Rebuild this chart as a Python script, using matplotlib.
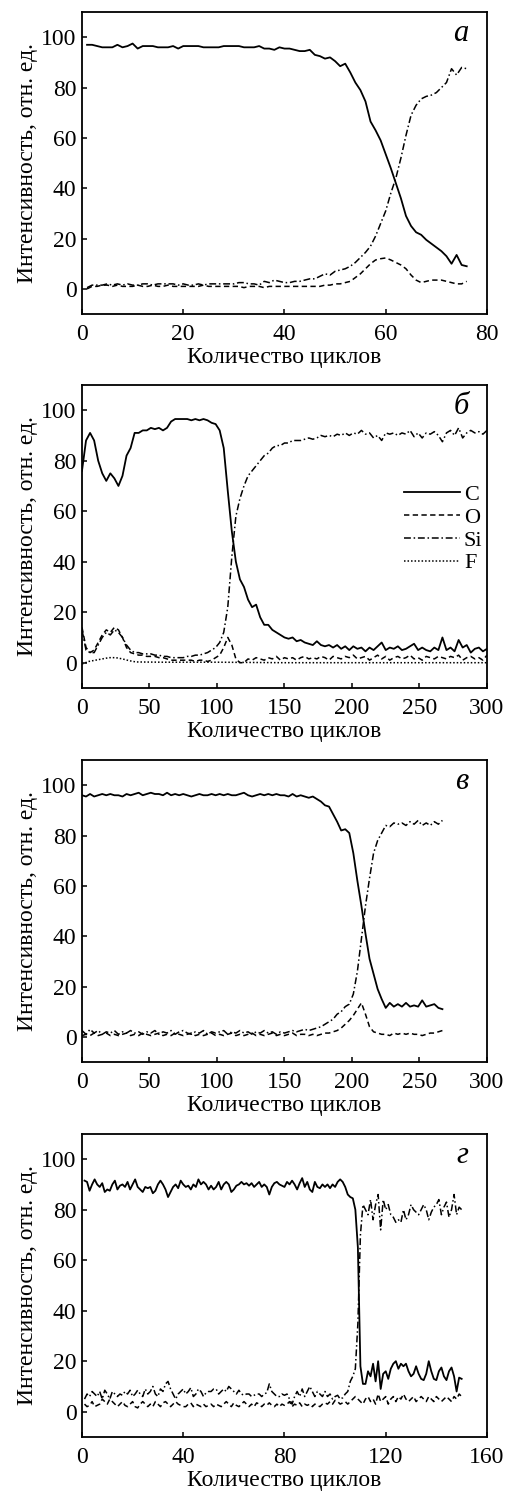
import numpy as np
import matplotlib
matplotlib.use('Agg')
import matplotlib.pyplot as plt

plt.rcParams['font.family'] = ['Liberation Serif', 'DejaVu Serif']

# ---- panel a : x = 1..76
a_x = np.arange(1, 77)
a_C = [97.0, 97.0, 96.5, 96.0, 96.0, 96.0, 97.0, 96.0, 96.5, 97.5,
       95.5, 96.5, 96.5, 96.5, 96.0, 96.0, 96.0, 96.5, 95.5, 96.5,
       96.5, 96.5, 96.5, 96.0, 96.0, 96.0, 96.0, 96.5, 96.5, 96.5,
       96.5, 96.0, 96.0, 96.0, 96.5, 95.5, 95.5, 95.0, 96.0, 95.5,
       95.5, 95.0, 94.5, 94.5, 95.0, 93.0, 92.5, 91.5, 92.0, 90.5,
       88.5, 89.5, 86.0, 82.0, 79.0, 74.5, 66.5, 63.0, 59.0, 53.5,
       48.0, 42.0, 36.0, 29.0, 25.0, 22.5, 21.5, 19.5, 18.0, 16.5,
       15.0, 13.0, 10.0, 13.5, 9.5, 9.0]
a_O = [0.0, 1.0, 1.0, 1.5, 1.5, 1.0, 1.5, 1.0, 1.0, 1.0,
       1.5, 1.0, 1.0, 1.5, 1.0, 1.0, 1.5, 1.0, 1.0, 1.0,
       1.0, 1.0, 1.0, 1.5, 1.0, 1.0, 1.0, 1.0, 1.0, 1.0,
       1.0, 0.5, 1.0, 1.0, 1.0, 0.5, 1.0, 1.0, 1.0, 1.0,
       1.0, 1.0, 1.0, 1.0, 1.0, 1.0, 1.0, 1.5, 1.5, 2.0,
       2.0, 2.5, 3.0, 4.5, 6.0, 8.0, 10.0, 11.5, 12.0, 12.3,
       11.5, 10.5, 9.5, 8.0, 5.5, 3.5, 2.5, 3.0, 3.5, 3.5,
       3.5, 3.0, 2.5, 2.0, 2.0, 3.0]
a_Si = [0.5, 1.5, 1.5, 1.5, 2.0, 1.5, 2.0, 1.5, 2.0, 1.5,
        1.5, 2.0, 2.0, 1.5, 2.0, 2.0, 2.0, 2.0, 1.5, 2.0,
        1.5, 1.5, 2.0, 1.5, 2.0, 2.0, 2.0, 2.0, 2.0, 2.0,
        2.5, 2.5, 2.0, 2.0, 1.5, 3.0, 2.5, 3.5, 3.0, 2.5,
        2.5, 3.0, 3.0, 3.5, 4.0, 4.0, 5.0, 6.0, 5.5, 7.0,
        7.5, 8.0, 9.0, 10.5, 12.5, 14.5, 17.0, 21.0, 26.0, 31.0,
        38.0, 44.0, 52.0, 61.0, 69.0, 73.0, 75.5, 76.5, 77.0, 78.0,
        80.0, 82.0, 87.5, 85.0, 88.0, 87.5]

# ---- panel b : x = 0..300, every 3 cycles
b_x = np.arange(0, 301, 3)
b_C = [76, 88, 91, 88, 80, 75, 72, 75, 73, 70,
       74, 82, 85, 91, 91, 92, 92, 93, 92.5, 93,
       92, 93, 95.5, 96.5, 96.5, 96.5, 96.5, 96, 96.5, 96,
       96.5, 96, 95, 94.5, 92, 85, 68, 52, 40, 33,
       30, 25, 22, 23, 18, 15, 15, 13, 12, 11,
       10, 9.5, 10, 8.5, 9, 8, 7.5, 7, 8.5, 7,
       6.5, 7, 6, 7, 5.5, 6.5, 5, 6.5, 5.5, 6,
       4.5, 6, 5, 6.5, 8, 5, 6, 5.5, 6.5, 5,
       5.5, 6.5, 7.5, 5, 6, 5, 4.5, 6, 5, 10,
       5, 6, 4.5, 9, 6, 7, 4, 5.5, 6, 4.5,
       5.5]
b_O = [14, 6, 4, 5, 8, 11, 13, 12, 14, 13,
       10, 6, 4, 3.5, 3, 3, 2.5, 2.5, 2.5, 2,
       2, 1.5, 1, 1, 1, 1, 1, 1, 0.5, 1,
       1, 0.5, 1, 2, 3, 6, 10, 7, 1.5, 0,
       0, 1.5, 1, 2, 1.5, 1, 2, 1.5, 2.5, 1,
       2, 1.5, 2, 1, 2, 2.5, 1.5, 2, 1.5, 2.5,
       2, 1, 2.5, 2, 1.5, 2.5, 2, 3, 1.5, 2,
       2.5, 1, 2, 3, 1.5, 2.5, 1, 2, 2.5, 1.5,
       2, 3, 1.5, 2, 1, 2.5, 2, 1.5, 2.5, 2,
       1.5, 2.5, 2, 3, 1, 2, 2.5, 1.5, 2, 1,
       3]
b_Si = [13, 5, 4, 4, 7, 10, 12, 11, 13, 12,
        10, 7, 5, 4, 4, 3.5, 3.5, 3.5, 3, 3,
        2.5, 2.5, 2, 2, 2, 2, 2.5, 2.5, 3, 3,
        3.5, 4, 5, 6, 8, 12, 22, 42, 58, 65,
        70, 74, 76, 78, 80, 82, 83, 85, 86, 86,
        87, 87, 88, 88, 88, 88.5, 89, 88.5, 89, 90,
        89.5, 90, 89.5, 90.5, 90, 91, 90, 91, 90.5, 92,
        90.5, 91, 89, 90, 88, 91, 90.5, 91, 90, 91,
        90.5, 92, 89.5, 91, 89, 91, 90.5, 91.5, 90, 87.5,
        91, 92, 90, 93, 89, 91, 92, 91, 91.5, 90.5,
        92]
b_F_x = [0, 5, 10, 15, 20, 25, 30, 35, 40, 60, 100, 150, 200, 250, 300]
b_F = [-0.5, 0.5, 1.0, 1.5, 2.0, 2.0, 1.5, 0.8, 0.3, 0.2, 0.2, 0.0, 0.0, 0.0, 0.0]

# ---- panel c : x = 0..267, every 3 cycles
c_x = np.arange(0, 268, 3)
c_C = [96, 95.5, 96.5, 95.5, 96, 96.5, 96, 96.5, 96, 96,
       95.5, 96.5, 96, 96.5, 97, 96, 96.5, 97, 96.5, 96.5,
       96, 97, 96, 96.5, 96, 96.5, 96, 95.5, 96, 96.5,
       96, 96, 96.5, 96, 96.5, 96, 96.5, 96, 96, 96.5,
       97, 96, 95.5, 96, 96.5, 96, 96.5, 96, 96.5, 96,
       96, 95.5, 96.5, 95.5, 96, 95.5, 95, 95.5, 94.5, 93.5,
       92, 91.5, 88.5, 85.5, 82, 82.5, 81, 73, 62, 52,
       41, 31, 25, 19, 15, 11.5, 13.5, 12, 13, 12,
       13.5, 12, 12.5, 12, 14.5, 12, 12.5, 13, 11.5, 11]
c_O = [0.5, 1, 0.5, 1.5, 0.5, 1, 1.5, 0.5, 1, 0.5,
       1, 1.5, 0.5, 1, 0.5, 1.5, 1, 0.5, 1, 1.5,
       0.5, 1, 0.5, 1.5, 1, 0.5, 1, 1.5, 0.5, 1,
       0.5, 1, 1.5, 0.5, 1, 0.5, 1, 1.5, 0.5, 1,
       0.5, 1, 1.5, 0.5, 1, 0.5, 1, 1.5, 0.5, 1,
       0.5, 1, 1.5, 0.5, 1, 1, 0.5, 1, 0.5, 1,
       1.5, 1.5, 2, 2.5, 3.5, 5, 6.5, 8.5, 11, 13.5,
       9, 4, 2, 1.5, 1, 1, 0.5, 1.5, 1, 1.5,
       1, 1.5, 1, 1, 0.5, 1, 1.5, 1.5, 2, 2.5]
c_Si = [2.5, 1, 3, 1.5, 2.5, 1, 2, 1.5, 2.5, 1,
        2, 1.5, 2.5, 1.5, 2, 1, 2, 1.5, 2.5, 1,
        2, 1.5, 2.5, 1, 2, 2.5, 1.5, 1, 2, 1.5,
        2.5, 1, 2, 1.5, 2, 2.5, 1, 2, 1.5, 2.5,
        1.5, 2, 1, 2, 1.5, 2.5, 1.5, 2, 1, 2,
        1.5, 2, 2.5, 2, 2.5, 3, 2.5, 3, 3.5, 4,
        5, 6, 7, 9, 10, 12, 13, 17, 26, 39,
        52, 63, 73, 78, 81, 84, 83.5, 85, 84.5, 85,
        84, 85.5, 84.5, 86, 84, 85, 84, 85.5, 84.5, 86]

# ---- panel d : x = 1..150
d_x = np.arange(1, 151)
d_C = [91.5, 91, 87.5, 90, 92, 90, 89, 90.5, 87, 88,
       87.5, 90, 91.5, 88, 89.5, 90, 89, 91, 88, 90,
       92, 89, 88, 87, 89, 88.5, 89, 86.5, 87.5, 90,
       91.5, 90, 88, 85, 87, 89, 90, 88.5, 91.5, 90,
       89, 89.5, 88, 90, 89, 92, 90, 91, 90, 88,
       89.5, 88, 89, 91, 88, 90, 91, 90, 87, 88,
       89.5, 90, 91, 90, 90.5, 89.5, 90.5, 89, 90, 91,
       89, 90, 89, 86, 89, 90.5, 91, 90, 89.5, 89,
       91, 90, 91.5, 90, 88, 90.5, 92.5, 89, 91, 88,
       87, 91, 89, 88.5, 90, 89, 90, 88.5, 90, 89,
       91, 92, 91, 89, 86, 85, 84.5, 80, 65, 18,
       11, 11, 16, 14, 19, 12, 20, 9, 15, 16,
       13, 17, 19, 20, 17, 19, 18, 19, 16, 14,
       15, 18, 15, 13, 12.5, 15, 20, 16, 13, 12.5,
       16, 17.5, 14, 12.5, 16, 17.5, 14, 8, 13.5, 13]
d_O = [3, 2, 2.5, 4, 2, 2.5, 3, 5, 4, 3,
       5, 4, 3, 2, 3, 4, 2.5, 2, 3, 4,
       2, 1.5, 3, 4, 3, 2, 3, 2, 4, 3,
       2, 3.5, 4, 3, 2, 3, 4, 3, 2.5, 2,
       2, 3, 3.5, 2, 3, 2.5, 2, 3, 2, 2.5,
       3, 2, 3, 2.5, 2, 3, 4, 3, 2, 3.5,
       2.5, 2, 3, 4, 3, 2, 3, 2, 3.5, 3,
       2, 3, 2.5, 3.5, 2.5, 2, 3, 2, 3, 2.5,
       3, 4, 2, 3, 2.5, 3.5, 2, 3, 2.5, 3,
       2, 3, 2.5, 2, 3, 3.5, 3, 4, 3, 4.5,
       4, 3, 3.5, 4, 3, 4, 5, 6, 5, 4,
       3, 5, 6, 4, 5, 3, 7, 4, 5, 6,
       3, 5, 6, 4, 6, 5, 7, 5, 4, 5,
       6, 4, 5, 6, 5, 4, 6, 5, 4, 6,
       5, 4, 5, 6, 5, 4, 6, 5, 7, 6]
d_Si = [5, 7, 6, 8, 7, 6, 8, 5, 8.5, 7,
        5, 8, 7, 6, 7, 6.5, 8, 7, 8.5, 6,
        7, 8.5, 7, 6, 9, 7, 8, 10, 7, 6,
        9, 8, 11, 12, 9, 7, 5, 7, 8, 9,
        7, 8, 9.5, 6, 7, 9, 8, 6, 7.5, 8,
        8, 9, 9, 7, 8, 9, 8, 10, 9, 8,
        7, 8.5, 7, 6.5, 7, 7, 6, 6.5, 7, 7,
        6, 7, 7.5, 11, 8, 7, 6, 6, 7, 6.5,
        7, 5, 3, 6, 8, 6, 9, 6, 8, 10,
        8, 6, 8, 7, 6, 8, 6, 7, 5, 6,
        6.5, 5, 5.5, 7, 8, 12, 14, 17, 35, 70,
        82, 80, 78, 84, 76, 82, 86, 72, 84, 80,
        82, 78, 77, 75, 76, 75, 80, 76, 78, 82,
        80, 79, 78, 80, 82, 80, 76, 79, 81, 82,
        84, 78, 81, 83, 77, 80, 86, 78, 81, 80]

panels = [
    ('а', a_x, a_C, a_O, a_Si, None, (0, 80), [0, 20, 40, 60, 80]),
    ('б', b_x, b_C, b_O, b_Si, (b_F_x, b_F), (0, 300), [0, 50, 100, 150, 200, 250, 300]),
    ('в', c_x, c_C, c_O, c_Si, None, (0, 300), [0, 50, 100, 150, 200, 250, 300]),
    ('г', d_x, d_C, d_O, d_Si, None, (0, 160), [0, 40, 80, 120, 160]),
]

# axes boxes in figure fractions (left, bottom, width, height)
boxes = [
    (0.1617, 0.7895, 0.7988, 0.2024),
    (0.1617, 0.5389, 0.7988, 0.2031),
    (0.1617, 0.2882, 0.7988, 0.2024),
    (0.1617, 0.0369, 0.7988, 0.2031),
]

fig = plt.figure(figsize=(5.07, 14.92), dpi=100)

for (letter, x, C, O, Si, F, xlim, xticks), box in zip(panels, boxes):
    ax = fig.add_axes(box)
    ax.plot(x, C, color='black', lw=1.3, label='C')
    ax.plot(x, O, color='black', lw=1.1, dashes=(3.5, 2.2), label='O')
    ax.plot(x, Si, color='black', lw=1.1, dashes=(4.5, 1.8, 1.0, 1.8), label='Si')
    if F is not None:
        ax.plot(F[0], F[1], color='black', lw=1.1, dashes=(1.0, 1.3), label='F')
    ax.set_xlim(*xlim)
    ax.set_ylim(-10, 110)
    ax.set_xticks(xticks)
    ax.set_yticks([0, 20, 40, 60, 80, 100])
    ax.tick_params(direction='in', length=3.5, width=1.1, labelsize=17,
                   top=False, right=False, pad=4)
    ax.tick_params(axis='x', pad=7)
    for s in ax.spines.values():
        s.set_linewidth(1.3)
    ax.set_xlabel('Количество циклов', fontsize=17, labelpad=1.5)
    ax.set_ylabel('Интенсивность, отн. ед.', fontsize=17, labelpad=2)
    ax.text(0.955, 0.93, letter, transform=ax.transAxes, fontsize=22,
            style='italic', ha='right', va='center')
    if F is not None:
        ax.legend(loc='center left', bbox_to_anchor=(0.795, 0.525), frameon=False,
                  fontsize=16, handlelength=2.5, handletextpad=0.2,
                  labelspacing=0.1, borderpad=0, borderaxespad=0)

fig.savefig('out.png', dpi=100)
